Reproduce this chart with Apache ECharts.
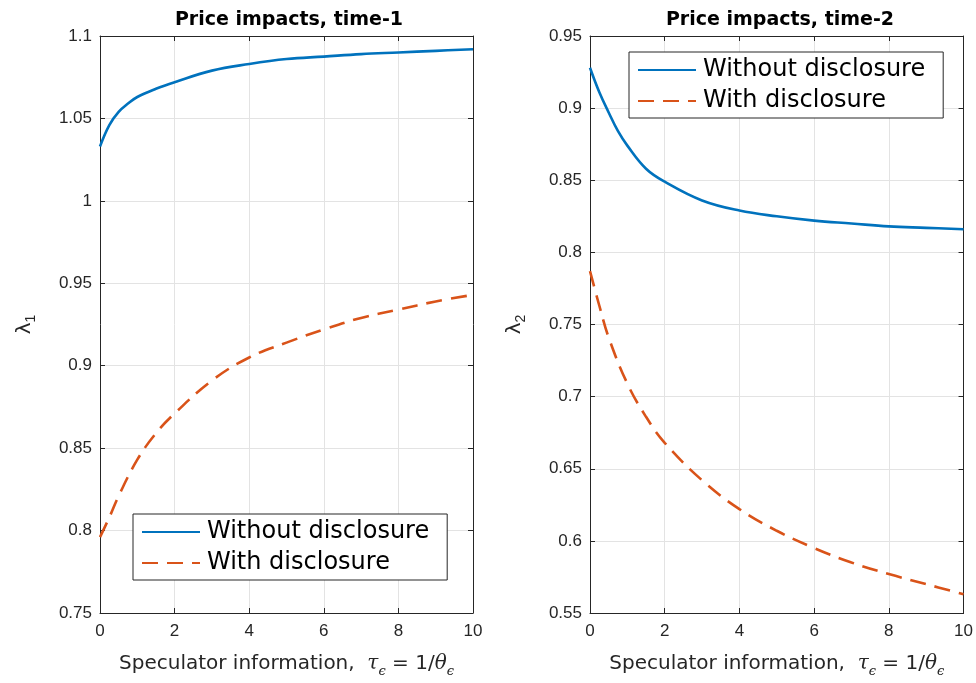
<!DOCTYPE html>
<html>
<head>
<meta charset="utf-8">
<script src="https://cdn.jsdelivr.net/npm/echarts@6/dist/echarts.min.js"></script>
<style>html,body{margin:0;padding:0;background:#fff}#c{width:976px;height:683px}</style>
</head>
<body>
<div id="c"></div>
<script>
// Data
const xLeftNo   = [0, 0.25, 0.5, 0.75, 1, 1.5, 2, 3, 4, 5, 6, 7, 8, 9, 10];
const lam1NoDisc = [1.033, 1.046, 1.054, 1.059, 1.063, 1.068, 1.072, 1.079, 1.083, 1.086, 1.0875, 1.089, 1.090, 1.091, 1.092];
const xLeftWith = [0, 0.25, 0.5, 1, 1.5, 2, 3, 4, 5, 6, 7, 8, 9, 10];
const lam1Disc  = [0.796, 0.808, 0.821, 0.843, 0.859, 0.871, 0.891, 0.905, 0.914, 0.922, 0.929, 0.934, 0.939, 0.943];
const xRightNo  = [0, 0.25, 0.5, 0.75, 1, 1.5, 2, 3, 4, 5, 6, 7, 8, 9, 10];
const lam2NoDisc = [0.928, 0.911, 0.897, 0.884, 0.874, 0.858, 0.849, 0.836, 0.829, 0.825, 0.822, 0.820, 0.818, 0.817, 0.816];
const xRightWith = [0, 0.25, 0.5, 1, 1.5, 2, 3, 4, 5, 6, 7, 8, 9, 10];
const lam2Disc  = [0.787, 0.763, 0.741, 0.709, 0.686, 0.668, 0.642, 0.622, 0.607, 0.595, 0.585, 0.577, 0.570, 0.563];
const xTicks = [0, 2, 4, 6, 8, 10];
const seriesNames = ['Without disclosure', 'With disclosure'];
const titles = ['Price impacts, time-1', 'Price impacts, time-2'];

const zip = (xs, ys) => xs.map((x, i) => [x, ys[i]]);
const BLUE = '#0072BD', ORANGE = '#D95319', AX = '#262626', GRID = '#e3e3e3';
const FONT = 'Liberation Sans, Arial, Helvetica, sans-serif';
const WIDE = 'DejaVu Sans, Verdana, sans-serif';

const chart = echarts.init(document.getElementById('c'), null, {renderer: 'canvas'});

function xAxisMain(gi) {
  return {
    type: 'value', gridIndex: gi, min: 0, max: 10, interval: 2,
    axisLine: {show: true, onZero: false, lineStyle: {color: AX, width: 1}},
    axisTick: {show: true, inside: true, length: 5, lineStyle: {color: AX}},
    axisLabel: {color: AX, fontSize: 17, fontFamily: FONT, margin: 10},
    splitLine: {show: true, lineStyle: {color: GRID, width: 1}},
    name: 'Speculator information,  {i|τ}{s|ϵ} = 1/{i|θ}{s|ϵ}',
    nameLocation: 'middle', nameGap: 36,
    nameTextStyle: {color: AX, fontSize: 20, fontFamily: WIDE,
      rich: {
        i: {fontSize: 20, fontStyle: 'italic', fontFamily: 'DejaVu Serif, serif', color: AX},
        s: {fontSize: 13, fontStyle: 'italic', fontFamily: 'DejaVu Serif, serif', color: AX, padding: [16, 0, 0, 0]}
      }}
  };
}
function xAxisTop(gi) {
  return {
    type: 'value', gridIndex: gi, min: 0, max: 10, interval: 2, position: 'top',
    axisLine: {show: true, onZero: false, lineStyle: {color: AX, width: 1}},
    axisTick: {show: true, inside: true, length: 5, lineStyle: {color: AX}},
    axisLabel: {show: false}, splitLine: {show: false}
  };
}
function yAxisMain(gi, min, max, sub) {
  return {
    type: 'value', gridIndex: gi, min: min, max: max, interval: 0.05,
    axisLine: {show: true, onZero: false, lineStyle: {color: AX, width: 1}},
    axisTick: {show: true, inside: true, length: 5, lineStyle: {color: AX}},
    axisLabel: {color: AX, fontSize: 17, fontFamily: FONT, margin: 8,
      formatter: v => String(+v.toFixed(2))},
    splitLine: {show: true, lineStyle: {color: GRID, width: 1}},
    name: '{l|λ}{s|' + sub + '}', nameLocation: 'middle', nameGap: 62, nameRotate: 90,
    nameTextStyle: {color: AX, rich: {
      l: {fontSize: 20, fontFamily: WIDE, color: AX},
      s: {fontSize: 14, fontFamily: FONT, color: AX, padding: [12, 0, 0, 0]}
    }}
  };
}
function yAxisRight(gi, min, max) {
  return {
    type: 'value', gridIndex: gi, min: min, max: max, interval: 0.05, position: 'right',
    axisLine: {show: true, onZero: false, lineStyle: {color: AX, width: 1}},
    axisTick: {show: true, inside: true, length: 5, lineStyle: {color: AX}},
    axisLabel: {show: false}, splitLine: {show: false}
  };
}
function legend(left, top) {
  return {
    left: left, top: top, orient: 'vertical', data: seriesNames,
    itemWidth: 58, itemHeight: 14, itemGap: 7,
    borderColor: AX, borderWidth: 1, backgroundColor: '#fff',
    padding: [6, 18, 5, 8], borderRadius: 0,
    itemStyle: {opacity: 0},
    textStyle: {fontSize: 24, color: '#000', fontFamily: WIDE, padding: [0, 0, 0, 2]},
    selectedMode: false
  };
}
function line(name, xi, yi, data, color, dashed) {
  return {
    name: name, type: 'line', xAxisIndex: xi, yAxisIndex: yi, data: data,
    showSymbol: false, symbol: 'none', smooth: 0.4,
    lineStyle: {color: color, width: 2.6, type: dashed ? [16, 9] : 'solid'},
    itemStyle: {color: color}, z: 3, clip: true
  };
}

chart.setOption({
  animation: false,
  backgroundColor: '#fff',
  title: [
    {text: titles[0], left: 284, top: 6, textAlign: 'center',
     textStyle: {fontSize: 19, fontWeight: 'bold', color: '#000', fontFamily: WIDE}},
    {text: titles[1], left: 775, top: 6, textAlign: 'center',
     textStyle: {fontSize: 19, fontWeight: 'bold', color: '#000', fontFamily: WIDE}}
  ],
  grid: [
    {left: 100, right: 503, top: 36, bottom: 64, containLabel: false},
    {left: 590, right: 12, top: 36, bottom: 64, containLabel: false}
  ],
  xAxis: [xAxisMain(0), xAxisTop(0), xAxisMain(1), xAxisTop(1)],
  yAxis: [yAxisMain(0, 0.75, 1.1, '1'), yAxisRight(0, 0.75, 1.1),
          yAxisMain(1, 0.55, 0.95, '2'), yAxisRight(1, 0.55, 0.95)],
  legend: [legend(133, 514), legend(629, 52)],
  series: [
    line(seriesNames[0], 0, 0, zip(xLeftNo, lam1NoDisc), BLUE, false),
    line(seriesNames[1], 0, 0, zip(xLeftWith, lam1Disc), ORANGE, true),
    line(seriesNames[0], 2, 2, zip(xRightNo, lam2NoDisc), BLUE, false),
    line(seriesNames[1], 2, 2, zip(xRightWith, lam2Disc), ORANGE, true)
  ]
});
</script>
</body>
</html>
